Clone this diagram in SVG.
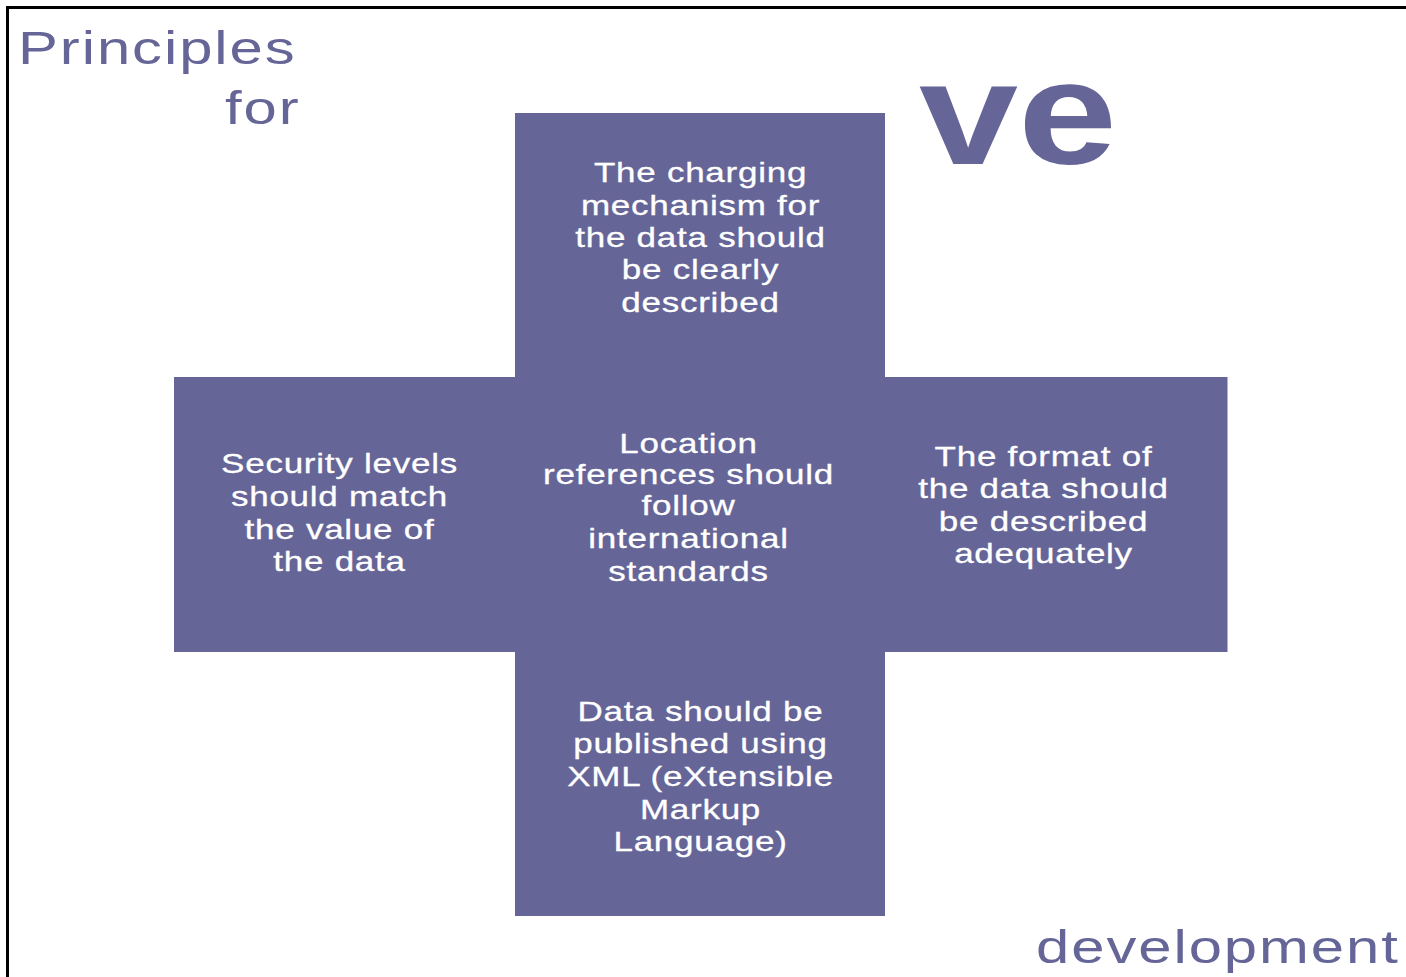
<svg xmlns="http://www.w3.org/2000/svg" width="1406" height="977" viewBox="0 0 1406 977">
<style>
.box{fill:#656597;}
.lbl{font-family:"Liberation Sans",Arial,sans-serif;font-size:28px;fill:#ffffff;stroke:#ffffff;stroke-width:0.3px;letter-spacing:0.6px;text-anchor:middle;}
.ttl{font-family:"Liberation Sans",Arial,sans-serif;font-size:46px;fill:#656597;letter-spacing:1.5px;}
.big{font-family:"Liberation Sans",Arial,sans-serif;font-size:146px;font-weight:bold;fill:#656597;}
</style>
<rect width="1406" height="977" fill="#ffffff"/>
<path d="M1406,7.5 H7.5 V977" fill="none" stroke="#000" stroke-width="3"/>
<g id="titles">
<text class="ttl" transform="translate(18,64) scale(1.3,1)">Principles</text>
<text class="ttl" transform="translate(225,124) scale(1.3,1)">for</text>
<text class="big" transform="translate(919,164) scale(1.22,1)">ve</text>
<text class="ttl" transform="translate(1036,963) scale(1.3,1)">development</text>
</g>
<g id="connectors"></g>
<g id="node-top">
<rect class="box" x="515" y="113" width="370" height="264"/>
<text class="lbl" transform="translate(700.5,0) scale(1.25,1)"><tspan x="0" y="182">The charging</tspan><tspan x="0" y="215">mechanism for</tspan><tspan x="0" y="247.5">the data should</tspan><tspan x="0" y="279.5">be clearly</tspan><tspan x="0" y="312">described</tspan></text>
</g>
<g id="node-left">
<rect class="box" x="174" y="377" width="341.5" height="275"/>
<text class="lbl" transform="translate(339.5,0) scale(1.25,1)"><tspan x="0" y="473.5">Security levels</tspan><tspan x="0" y="506.5">should match</tspan><tspan x="0" y="539">the value of</tspan><tspan x="0" y="571">the data</tspan></text>
</g>
<g id="node-center">
<rect class="box" x="515" y="377" width="370" height="275"/>
<text class="lbl" transform="translate(688.5,0) scale(1.25,1)"><tspan x="0" y="453.5">Location</tspan><tspan x="0" y="484.5">references should</tspan><tspan x="0" y="515.5">follow</tspan><tspan x="0" y="548.5">international</tspan><tspan x="0" y="581.5">standards</tspan></text>
</g>
<g id="node-right">
<rect class="box" x="884.5" y="377" width="343" height="275"/>
<text class="lbl" transform="translate(1043.5,0) scale(1.25,1)"><tspan x="0" y="466.5">The format of</tspan><tspan x="0" y="498.5">the data should</tspan><tspan x="0" y="531.5">be described</tspan><tspan x="0" y="563.5">adequately</tspan></text>
</g>
<g id="node-bottom">
<rect class="box" x="515" y="651.5" width="370" height="264.5"/>
<text class="lbl" transform="translate(700.5,0) scale(1.25,1)"><tspan x="0" y="721.5">Data should be</tspan><tspan x="0" y="753.5">published using</tspan><tspan x="0" y="786.5">XML (eXtensible</tspan><tspan x="0" y="819.5">Markup</tspan><tspan x="0" y="851.5">Language)</tspan></text>
</g>
</svg>
